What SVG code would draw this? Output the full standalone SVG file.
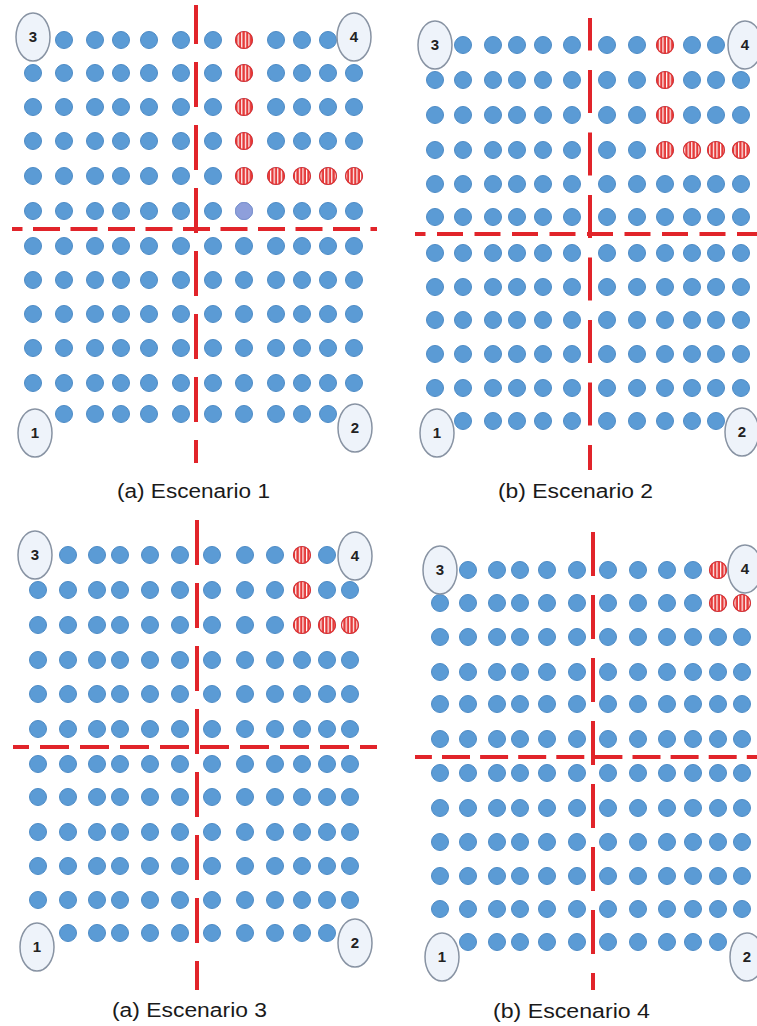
<svg xmlns="http://www.w3.org/2000/svg" xmlns:xlink="http://www.w3.org/1999/xlink" width="757" height="1026" viewBox="0 0 757 1026">
<style>
.b{fill:#5b9bd5;stroke:#4d8bc6;stroke-width:1}
.r{fill:url(#stripes);stroke:#e2302f;stroke-width:1.2}
.p{fill:#8e9fdb;stroke:#8393d0;stroke-width:1}
.lab{fill:#eef3fa;stroke:#8893a3;stroke-width:1.5}
.lt{font-family:"Liberation Sans",Arial,sans-serif;font-size:15px;font-weight:bold;fill:#222;text-anchor:middle}
.cap{font-family:"Liberation Sans",Arial,sans-serif;font-size:20px;fill:#1a1a1a}
.dl{stroke:#e1242a;stroke-width:4;fill:none}
</style>
<defs>
<pattern id="stripes" patternUnits="userSpaceOnUse" width="3.6" height="4"><rect width="3.6" height="4" fill="#e53b3b"/><rect width="1.2" height="4" fill="#fff"/></pattern>
<g id="rowA"><circle class="b" cx="33" r="8.5"/><g id="midA"><circle class="b" cx="64" r="8.5"/><circle class="b" cx="95" r="8.5"/><circle class="b" cx="121" r="8.5"/><circle class="b" cx="149" r="8.5"/><circle class="b" cx="181" r="8.5"/><circle class="b" cx="213" r="8.5"/><circle class="b" cx="244" r="8.5"/><circle class="b" cx="276" r="8.5"/><circle class="b" cx="302" r="8.5"/><circle class="b" cx="328" r="8.5"/></g><circle class="b" cx="354" r="8.5"/></g>
<g id="rowB"><circle class="b" cx="435" r="8.5"/><g id="midB"><circle class="b" cx="463" r="8.5"/><circle class="b" cx="493" r="8.5"/><circle class="b" cx="517" r="8.5"/><circle class="b" cx="543" r="8.5"/><circle class="b" cx="572" r="8.5"/><circle class="b" cx="607" r="8.5"/><circle class="b" cx="637" r="8.5"/><circle class="b" cx="665" r="8.5"/><circle class="b" cx="692" r="8.5"/><circle class="b" cx="716" r="8.5"/></g><circle class="b" cx="741" r="8.5"/></g>
<g id="rowC"><circle class="b" cx="38" r="8.5"/><g id="midC"><circle class="b" cx="68" r="8.5"/><circle class="b" cx="97" r="8.5"/><circle class="b" cx="120" r="8.5"/><circle class="b" cx="150" r="8.5"/><circle class="b" cx="180" r="8.5"/><circle class="b" cx="212" r="8.5"/><circle class="b" cx="245" r="8.5"/><circle class="b" cx="275" r="8.5"/><circle class="b" cx="302" r="8.5"/><circle class="b" cx="327" r="8.5"/></g><circle class="b" cx="350" r="8.5"/></g>
<g id="rowD"><circle class="b" cx="440" r="8.5"/><g id="midD"><circle class="b" cx="468" r="8.5"/><circle class="b" cx="497" r="8.5"/><circle class="b" cx="520" r="8.5"/><circle class="b" cx="547" r="8.5"/><circle class="b" cx="577" r="8.5"/><circle class="b" cx="608" r="8.5"/><circle class="b" cx="638" r="8.5"/><circle class="b" cx="667" r="8.5"/><circle class="b" cx="693" r="8.5"/><circle class="b" cx="718" r="8.5"/></g><circle class="b" cx="742" r="8.5"/></g>
</defs>
<rect width="757" height="1026" fill="#fff"/>

<g id="panel-a">
<use href="#midA" y="40"/><use href="#rowA" y="73"/><use href="#rowA" y="107"/><use href="#rowA" y="141"/><use href="#rowA" y="176"/><use href="#rowA" y="211"/>
<use href="#rowA" y="246"/><use href="#rowA" y="280"/><use href="#rowA" y="314"/><use href="#rowA" y="348"/><use href="#rowA" y="383"/><use href="#midA" y="414"/>
<circle class="r" cx="244" cy="40" r="8.5"/><circle class="r" cx="244" cy="73" r="8.5"/><circle class="r" cx="244" cy="107" r="8.5"/><circle class="r" cx="244" cy="141" r="8.5"/><circle class="r" cx="244" cy="176" r="8.5"/><circle class="r" cx="276" cy="176" r="8.5"/><circle class="r" cx="302" cy="176" r="8.5"/><circle class="r" cx="328" cy="176" r="8.5"/><circle class="r" cx="354" cy="176" r="8.5"/>
<circle class="p" cx="244" cy="211" r="8.5"/>
<g id="a-n3"><ellipse class="lab" cx="33" cy="37" rx="17" ry="24"/><text class="lt" x="33" y="42">3</text></g>
<g id="a-n4"><ellipse class="lab" cx="354" cy="37" rx="17" ry="24"/><text class="lt" x="354" y="42">4</text></g>
<g id="a-n1"><ellipse class="lab" cx="35" cy="433" rx="17" ry="24"/><text class="lt" x="35" y="438">1</text></g>
<g id="a-n2"><ellipse class="lab" cx="355" cy="428" rx="17" ry="24"/><text class="lt" x="355" y="433">2</text></g>
<text class="cap" x="117" y="498" textLength="153" lengthAdjust="spacingAndGlyphs">(a) Escenario 1</text>
</g>

<g id="panel-b">
<use href="#midB" y="45"/><use href="#rowB" y="80"/><use href="#rowB" y="115"/><use href="#rowB" y="150"/><use href="#rowB" y="184"/><use href="#rowB" y="217"/>
<use href="#rowB" y="253"/><use href="#rowB" y="287"/><use href="#rowB" y="320"/><use href="#rowB" y="354"/><use href="#rowB" y="388"/><use href="#midB" y="421"/>
<circle class="r" cx="665" cy="45" r="8.5"/><circle class="r" cx="665" cy="80" r="8.5"/><circle class="r" cx="665" cy="115" r="8.5"/><circle class="r" cx="665" cy="150" r="8.5"/><circle class="r" cx="692" cy="150" r="8.5"/><circle class="r" cx="716" cy="150" r="8.5"/><circle class="r" cx="741" cy="150" r="8.5"/>
<g id="b-n3"><ellipse class="lab" cx="435" cy="45" rx="17" ry="24"/><text class="lt" x="435" y="50">3</text></g>
<g id="b-n4"><ellipse class="lab" cx="745" cy="45" rx="17" ry="24"/><text class="lt" x="745" y="50">4</text></g>
<g id="b-n1"><ellipse class="lab" cx="437" cy="433" rx="17" ry="24"/><text class="lt" x="437" y="438">1</text></g>
<g id="b-n2"><ellipse class="lab" cx="742" cy="432" rx="17" ry="24"/><text class="lt" x="742" y="437">2</text></g>
<text class="cap" x="498" y="498" textLength="155" lengthAdjust="spacingAndGlyphs">(b) Escenario 2</text>
</g>

<g id="panel-c">
<use href="#midC" y="555"/><use href="#rowC" y="590"/><use href="#rowC" y="625"/><use href="#rowC" y="660"/><use href="#rowC" y="694"/><use href="#rowC" y="729"/>
<use href="#rowC" y="764"/><use href="#rowC" y="797"/><use href="#rowC" y="832"/><use href="#rowC" y="866"/><use href="#rowC" y="900"/><use href="#midC" y="933"/>
<circle class="r" cx="302" cy="555" r="8.5"/><circle class="r" cx="302" cy="590" r="8.5"/><circle class="r" cx="302" cy="625" r="8.5"/><circle class="r" cx="327" cy="625" r="8.5"/><circle class="r" cx="350" cy="625" r="8.5"/>
<g id="c-n3"><ellipse class="lab" cx="35" cy="555" rx="17" ry="24"/><text class="lt" x="35" y="560">3</text></g>
<g id="c-n4"><ellipse class="lab" cx="355" cy="556" rx="17" ry="24"/><text class="lt" x="355" y="561">4</text></g>
<g id="c-n1"><ellipse class="lab" cx="37" cy="947" rx="17" ry="24"/><text class="lt" x="37" y="952">1</text></g>
<g id="c-n2"><ellipse class="lab" cx="355" cy="943" rx="17" ry="24"/><text class="lt" x="355" y="948">2</text></g>
<text class="cap" x="112" y="1017" textLength="155" lengthAdjust="spacingAndGlyphs">(a) Escenario 3</text>
</g>

<g id="panel-d">
<use href="#midD" y="570"/><use href="#rowD" y="603"/><use href="#rowD" y="637"/><use href="#rowD" y="672"/><use href="#rowD" y="704"/><use href="#rowD" y="739"/>
<use href="#rowD" y="773"/><use href="#rowD" y="808"/><use href="#rowD" y="842"/><use href="#rowD" y="876"/><use href="#rowD" y="909"/><use href="#midD" y="942"/>
<circle class="r" cx="718" cy="570" r="8.5"/><circle class="r" cx="718" cy="603" r="8.5"/><circle class="r" cx="742" cy="603" r="8.5"/>
<g id="d-n3"><ellipse class="lab" cx="440" cy="570" rx="17" ry="24"/><text class="lt" x="440" y="575">3</text></g>
<g id="d-n4"><ellipse class="lab" cx="745" cy="569" rx="17" ry="24"/><text class="lt" x="745" y="574">4</text></g>
<g id="d-n1"><ellipse class="lab" cx="442" cy="957" rx="17" ry="24"/><text class="lt" x="442" y="962">1</text></g>
<g id="d-n2"><ellipse class="lab" cx="747" cy="957" rx="17" ry="24"/><text class="lt" x="747" y="962">2</text></g>
<text class="cap" x="493" y="1018" textLength="157" lengthAdjust="spacingAndGlyphs">(b) Escenario 4</text>
</g>

<g id="dividers">
<line class="dl" x1="196" y1="5" x2="196" y2="463" stroke-dasharray="45 18" stroke-dashoffset="6"/>
<line class="dl" x1="12" y1="229" x2="377" y2="229" stroke-dasharray="27 10.5" stroke-dashoffset="16.5"/>
<line class="dl" x1="590" y1="18" x2="590" y2="470" stroke-dasharray="43 19.5" stroke-dashoffset="10.5"/>
<line class="dl" x1="415" y1="234" x2="757" y2="234" stroke-dasharray="26 11.5" stroke-dashoffset="15.5"/>
<line class="dl" x1="197" y1="520" x2="197" y2="990" stroke-dasharray="45 18" stroke-dashoffset="0"/>
<line class="dl" x1="13" y1="747" x2="377" y2="747" stroke-dasharray="29 11" stroke-dashoffset="13"/>
<line class="dl" x1="593" y1="532" x2="593" y2="990" stroke-dasharray="44 19" stroke-dashoffset="0"/>
<line class="dl" x1="415" y1="757" x2="757" y2="757" stroke-dasharray="28 10.1" stroke-dashoffset="11.1"/>
</g>
</svg>
